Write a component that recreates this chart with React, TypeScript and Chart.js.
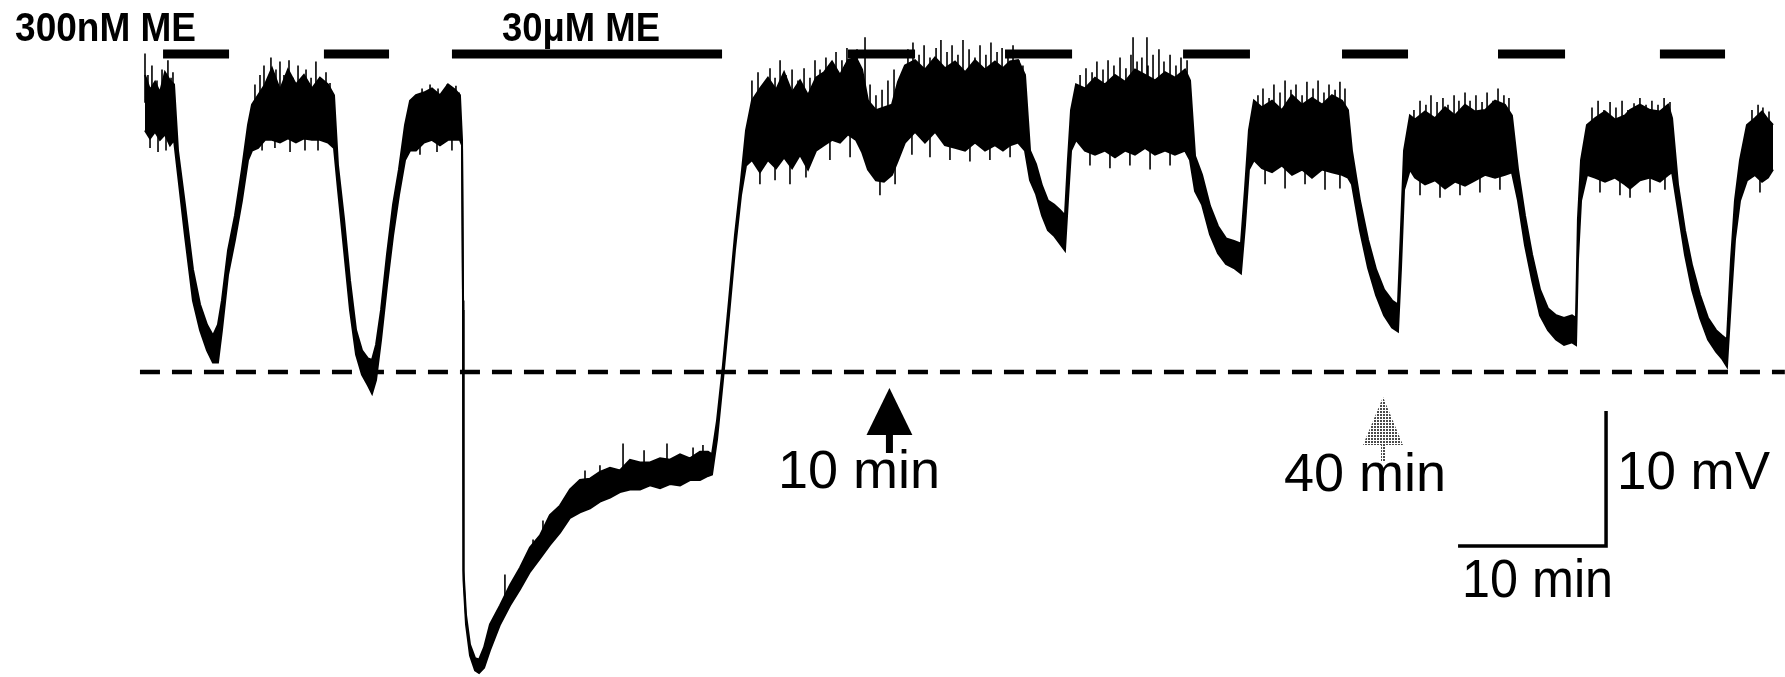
import React, { useEffect, useRef } from "react";
import { Chart, registerables } from "chart.js";

Chart.register(...registerables);

// Membrane potential trace (time in min, potential in mV relative to dashed baseline)
// drawn as the upper and lower edges of the noisy recording band.
const traceTime = [
  0, 0.34, 0.68, 1.01, 1.35, 1.69, 1.96, 2.23, 2.7, 3.24, 3.72, 4.19, 4.59, 4.93, 5.2, 5.61, 6.08, 6.55, 6.96, 7.23,
  7.64, 8.11, 8.58, 9.12, 9.66, 10.2, 10.74, 11.28, 11.82, 12.36, 12.77,
  13.04, 13.45, 13.85, 14.26, 14.66, 15.07, 15.34, 15.61, 15.95, 16.35, 16.76, 17.16, 17.57, 17.91,
  18.31, 18.85, 19.39, 19.93, 20.47, 20.95, 21.28,
  21.42, 21.49, 21.52, 21.69, 21.96, 22.3, 22.57, 22.91, 23.31, 23.99, 24.66, 25.34, 26.01, 26.69, 27.36, 28.04, 28.72,
  29.39, 30.07, 30.74, 31.42, 32.09, 32.77, 33.45, 34.12, 34.8, 35.47, 36.15, 36.82, 37.5, 38.04,
  38.31, 38.65, 39.05, 39.46, 39.86, 40.27, 40.61,
  41.01, 41.55, 42.09, 42.64, 43.18, 43.72, 44.26, 44.8, 45.34, 45.88, 46.42, 46.96, 47.5, 48.04, 48.45, 48.85, 49.39,
  49.93, 50.47, 50.88, 51.35, 52.03, 52.7, 53.38, 54.05, 54.73, 55.41, 56.08, 56.76, 57.43, 57.97, 58.45, 58.99, 59.46,
  59.8, 60.2, 60.61, 61.01, 61.42, 61.82, 62.16, 62.36, 62.57, 62.91,
  63.51, 64.19, 64.86, 65.54, 66.22, 66.89, 67.57, 68.24, 68.92, 69.59, 70.27, 70.61,
  70.95, 71.42, 71.96, 72.5, 73.04, 73.58, 74.05, 74.32, 74.59, 74.93,
  75.47, 76.15, 76.82, 77.5, 78.18, 78.85, 79.53, 80.2, 80.88, 81.28,
  81.55, 82.09, 82.64, 83.18, 83.72, 84.26, 84.66, 84.86, 85.07, 85.47,
  85.81, 86.49, 87.16, 87.84, 88.51, 89.19, 89.86, 90.54, 91.22, 91.89, 92.36,
  92.77, 93.24, 93.72, 94.26, 94.8, 95.34, 95.88, 96.42, 96.69, 96.82, 97.03, 97.43,
  97.97, 98.65, 99.32, 100.0, 100.34, 101.01, 101.69, 102.36, 102.91, 103.18,
  103.58, 104.05, 104.53, 105.07, 105.61, 106.15, 106.55, 106.89, 107.16, 107.43, 107.77, 108.24,
  108.78, 109.26, 109.66, 110.0,
];

const traceUpper = [
  22.0, 20.9, 21.5, 20.7, 22.2, 21.6, 21.3, 16.4, 12.4, 7.6, 5.0, 3.5, 2.7, 3.5, 5.3, 9.0, 11.6, 15.0, 18.3, 19.8,
  20.5, 21.3, 22.5, 20.9, 22.4, 21.3, 22.0, 21.0, 21.8, 21.3, 20.5,
  15.3, 11.3, 6.8, 3.1, 1.6, 1.0, 0.9, 2.0, 4.6, 8.7, 12.4, 15.0, 18.3, 20.1,
  20.5, 20.7, 21.0, 20.5, 21.3, 20.9, 20.5,
  17.2, 5.3, -14.7, -18.0, -20.2, -21.2, -21.3, -20.4, -18.7, -17.3, -15.8, -14.5, -13.0, -12.1, -10.6, -9.9, -8.7,
  -8.0, -7.9, -7.4, -7.1, -7.3, -6.5, -6.7, -6.7, -6.4, -6.5, -6.1, -6.4, -5.9, -5.9,
  -6.1, -3.6, 0.5, 5.3, 10.1, 14.2, 17.9,
  20.1, 21.0, 21.8, 20.9, 22.2, 20.7, 21.6, 20.5, 21.8, 22.2, 23.0, 22.0, 23.1, 23.3, 22.4, 20.1, 19.4,
  19.6, 19.8, 21.5, 22.7, 23.1, 22.4, 23.3, 22.5, 23.0, 22.2, 23.1, 22.4, 23.0, 22.5, 23.0, 23.1, 22.0,
  16.4, 15.4, 13.8, 12.7, 12.4, 12.0, 11.6, 15.7, 19.4, 21.3,
  21.0, 21.8, 21.3, 22.0, 21.5, 22.4, 22.0, 21.6, 22.2, 21.8, 22.4, 21.6,
  16.0, 14.6, 12.3, 10.8, 9.9, 9.7, 9.5, 13.5, 17.9, 20.1,
  19.6, 20.1, 19.4, 20.5, 19.8, 20.3, 19.8, 20.5, 20.1, 19.4,
  16.4, 12.7, 9.8, 7.6, 6.1, 5.3, 5.0, 10.5, 16.4, 19.0,
  18.7, 19.3, 18.8, 19.6, 19.0, 19.8, 19.3, 19.4, 20.1, 19.8, 19.0,
  15.0, 11.6, 8.7, 6.1, 4.7, 4.2, 4.0, 4.2, 4.0, 11.3, 15.7, 18.3,
  18.8, 19.3, 18.7, 19.0, 19.4, 19.8, 19.4, 19.3, 19.8, 18.8,
  13.9, 10.5, 7.9, 5.7, 4.0, 3.1, 2.7, 2.4, 8.3, 12.7, 15.7, 18.3,
  18.8, 19.3, 18.7, 18.3,
];

const traceLower = [
  17.9, 17.3, 17.8, 17.2, 17.6, 16.8, 17.2, 14.6, 10.1, 5.3, 3.1, 1.6, 0.7, 0.7, 3.1, 7.2, 9.8, 12.7, 15.7, 16.4,
  16.6, 17.2, 17.2, 17.0, 17.3, 17.0, 17.3, 17.2, 17.2, 17.0, 16.6,
  13.5, 9.0, 4.6, 1.3, -0.2, -1.0, -1.6, -0.6, 2.4, 6.4, 10.1, 13.1, 15.7, 16.4,
  16.4, 17.0, 17.2, 16.8, 17.2, 17.2, 17.2,
  16.8, 4.6, -15.4, -18.7, -21.0, -22.1, -22.3, -21.9, -20.6, -18.7, -17.3, -16.1, -14.8, -13.8, -12.8, -11.9, -10.8,
  -10.4, -10.1, -9.6, -9.3, -8.9, -8.7, -8.7, -8.4, -8.6, -8.3, -8.4, -8.0, -8.0, -7.7,
  -7.6, -5.0, -0.6, 4.2, 9.0, 13.1, 15.3,
  15.7, 14.8, 15.7, 15.1, 15.9, 15.1, 16.1, 15.0, 16.4, 16.8, 17.2, 17.0, 17.6, 17.2, 16.3, 15.0, 14.2,
  14.1, 14.6, 15.7, 17.0, 17.8, 17.0, 17.8, 16.8, 16.6, 16.4, 17.0, 16.4, 16.8, 16.4, 16.8, 17.0, 16.4,
  14.2, 13.2, 11.6, 10.5, 10.1, 9.5, 9.0, 12.7, 16.4, 17.2,
  16.4, 16.1, 16.4, 15.9, 16.4, 16.1, 16.6, 16.1, 16.4, 16.1, 16.4, 15.7,
  13.4, 12.4, 10.2, 8.8, 8.0, 7.7, 7.3, 10.8, 15.0, 15.7,
  15.1, 14.8, 15.3, 14.6, 15.0, 14.4, 15.0, 14.8, 14.6, 14.4,
  13.9, 10.5, 7.7, 5.7, 4.2, 3.3, 3.0, 7.6, 13.5, 15.0,
  14.4, 13.9, 14.2, 13.6, 14.1, 13.8, 14.2, 14.6, 14.4, 14.6, 14.8,
  12.7, 9.4, 6.8, 4.2, 3.1, 2.4, 2.0, 2.2, 2.0, 8.3, 12.7, 14.6,
  14.4, 14.1, 14.4, 13.9, 13.6, 14.2, 14.4, 14.1, 14.6, 14.8,
  12.0, 8.7, 6.1, 4.0, 2.4, 1.5, 1.0, 0.4, 5.3, 9.8, 12.7, 14.2,
  14.6, 14.1, 14.4, 15.0,
];

// Noise spikes: time (min) and tip potential (mV); each spike starts from the band centre
const spikeTime = [
  0.0, 0.2, 0.47, 0.81, 1.15, 1.55, 1.76, 1.89, 0.34, 0.88, 1.42,
  7.43, 7.77, 8.04, 8.31, 8.51, 8.85, 9.12, 9.39, 9.73, 10.0, 10.34, 10.61, 10.88, 11.22, 11.55, 11.89, 12.23, 12.5,
  7.91, 8.78, 9.8, 10.81, 11.69,
  18.04, 18.38, 18.72, 18.99, 19.26, 19.53, 19.8, 20.14, 20.41, 20.68, 21.01, 21.22, 18.58, 19.73, 20.74,
  24.32, 26.22, 26.89, 28.58, 29.05, 29.73, 30.74, 32.3, 33.72, 35.27, 37.03, 37.7,
  41.01, 41.42, 41.82, 42.23, 42.57, 42.91, 43.31, 43.72, 44.12, 44.53, 44.93, 45.27, 45.61, 46.01, 46.35, 46.69,
  47.09, 47.43, 47.77, 48.11, 48.65, 48.99, 49.39, 49.8, 50.2, 50.61, 51.55, 51.89, 52.3, 52.64, 53.04, 53.45, 53.78,
  54.19, 54.53, 54.93, 55.27, 55.68, 56.08, 56.42, 56.82, 57.16, 57.57, 57.91, 58.31, 58.65, 59.05, 59.32,
  41.55, 42.57, 43.58, 44.66, 46.28, 47.64, 49.66, 50.68, 51.82, 53.04, 54.39, 55.74, 57.09, 58.45,
  63.18, 63.58, 63.99, 64.32, 64.73, 65.07, 65.47, 65.88, 66.28, 66.62, 66.76, 67.03, 67.36, 67.7, 67.77, 68.11,
  68.51, 68.85, 69.26, 69.66, 70.0, 70.41, 63.85, 65.2, 66.55, 67.91, 69.26,
  75.2, 75.54, 75.95, 76.28, 76.69, 77.03, 77.43, 77.77, 78.18, 78.51, 78.92, 79.26, 79.66, 80.0, 80.41, 80.74, 81.08,
  75.68, 77.03, 78.38, 79.73, 80.74,
  85.74, 86.15, 86.55, 86.89, 87.3, 87.7, 88.04, 88.45, 88.78, 89.19, 89.53, 89.93, 90.34, 90.68, 91.08, 91.42, 91.82,
  92.16, 86.15, 87.5, 88.85, 90.2, 91.55,
  97.77, 98.18, 98.58, 98.99, 99.39, 99.8, 100.2, 100.61, 101.01, 101.42, 101.82, 102.23, 102.64, 103.04,
  98.31, 99.66, 100.34, 101.69, 102.7,
  108.58, 108.99, 109.32, 109.73, 109.12,
];
const spikeTip = [
  23.6, 22.0, 22.7, 21.6, 22.4, 23.1, 21.8, 22.2, 16.6, 16.3, 16.4,
  21.3, 22.0, 22.7, 21.6, 23.3, 22.4, 23.0, 22.0, 23.1, 21.8, 22.7, 21.5, 22.4, 21.8, 23.0, 21.6, 22.2, 21.4,
  16.4, 16.6, 16.3, 16.4, 16.4,
  19.8, 20.5, 21.0, 20.3, 21.3, 20.7, 21.0, 20.5, 21.3, 20.9, 21.2, 20.7, 16.1, 16.3, 16.4,
  -15.0, -12.4, -11.0, -9.3, -9.0, -7.3, -6.9, -5.3, -5.8, -5.3, -5.6, -5.4,
  21.6, 22.2, 21.3, 22.5, 21.8, 23.1, 22.0, 22.4, 21.6, 22.5, 21.8, 23.1, 22.4, 23.3, 22.7, 23.7,
  23.1, 24.0, 23.5, 23.9, 24.8, 21.3, 20.5, 20.9, 21.6, 22.4, 23.9, 24.4, 23.5, 24.2, 23.3, 24.0, 24.6,
  23.7, 24.2, 23.5, 24.6, 23.9, 23.3, 24.2, 23.5, 24.4, 23.7, 24.0, 23.5, 24.2, 23.1, 22.7,
  13.9, 14.2, 13.9, 14.4, 15.7, 15.9, 13.1, 13.9, 16.1, 15.9, 15.7, 15.6, 15.7, 15.9,
  22.0, 22.5, 22.2, 23.0, 22.4, 23.1, 22.7, 23.3, 22.5, 23.5, 24.8, 23.0, 23.3, 24.8, 22.7, 23.5,
  23.9, 23.0, 23.5, 22.7, 23.3, 23.1, 15.3, 15.1, 15.3, 15.0, 15.3,
  20.5, 21.0, 20.3, 21.3, 20.7, 21.6, 20.9, 21.3, 20.5, 21.5, 21.0, 21.6, 20.7, 21.3, 20.9, 21.5, 21.0,
  13.9, 13.6, 13.9, 13.5, 13.6,
  19.4, 20.1, 19.8, 20.5, 20.0, 20.3, 19.8, 20.5, 20.1, 20.7, 20.1, 20.5, 20.0, 20.7, 20.1, 21.0, 20.5,
  20.3, 13.1, 12.9, 13.1, 13.3, 13.5,
  19.6, 20.1, 19.4, 20.0, 19.6, 20.1, 19.4, 19.9, 20.3, 19.8, 20.1, 19.8, 20.3, 20.0,
  13.3, 13.1, 12.9, 13.3, 13.5,
  19.4, 19.8, 19.6, 19.3, 13.3,
];

// Drug application bars (min)
const drugStart = [1.22, 12.09, 20.74, 47.5, 58.11, 70.14, 80.88, 91.42, 102.36];
const drugEnd = [5.68, 16.49, 38.99, 52.03, 62.64, 74.66, 85.34, 95.95, 106.76];
const drugLevel = 23.56;

// Dashed reference potential
const baselineTime = [-0.34, 110.8];
const baselineMv = [0, 0];

// Scale bar: 10 min x 10 mV
const scaleBarTime = [88.72, 98.72, 98.72];
const scaleBarMv = [-12.89, -12.89, -2.89];

// Time-point arrows
const arrowTime = [50.3, 83.65];
const arrowTipMv = [-1.19, -1.85];
const arrowBaseMv = [-4.67, -5.41];
const arrowStemEndMv = [-6.0, -6.67];
const arrowHalfWidth = [1.55, 1.35];
const arrowColor = ["#000000", "#4a4a4a"];
const arrowStippled = [false, true];
const arrowStemWidth = [7, 4];

// Text labels
const labelText = ["300nM ME", "30\u03bcM ME", "10 min", "40 min", "10 mV", "10 min"];
const labelTime = [-8.78, 24.12, 42.77, 76.96, 99.46, 88.99];
const labelMv = [24.52, 24.52, -8.59, -8.81, -8.67, -16.67];
const labelBold = [true, true, false, false, false, false];
const labelMaxWidth = [181, 158, 165, 168, 153, 151];

const X_MIN = -9.797;
const X_MAX = 110.811;
const Y_MIN = -22.593;
const Y_MAX = 27.556;

function bandCentre(t: number): number {
  for (let i = 1; i < traceTime.length; i++) {
    if (t <= traceTime[i]) {
      const t0 = traceTime[i - 1];
      const t1 = traceTime[i];
      const f = t1 === t0 ? 0 : (t - t0) / (t1 - t0);
      const c0 = (traceUpper[i - 1] + traceLower[i - 1]) / 2;
      const c1 = (traceUpper[i] + traceLower[i]) / 2;
      return c0 + (c1 - c0) * Math.max(0, Math.min(1, f));
    }
  }
  const n = traceTime.length - 1;
  return (traceUpper[n] + traceLower[n]) / 2;
}

function stipple(ctx: CanvasRenderingContext2D, color: string): CanvasPattern | string {
  const tile = document.createElement("canvas");
  tile.width = 3;
  tile.height = 3;
  const t = tile.getContext("2d");
  if (!t) return color;
  t.fillStyle = "#ffffff";
  t.fillRect(0, 0, 3, 3);
  t.fillStyle = color;
  t.fillRect(0, 0, 2, 2);
  return ctx.createPattern(tile, "repeat") || color;
}

const annotationPlugin = {
  id: "traceAnnotations",
  afterDatasetsDraw(chart: any) {
    const ctx = chart.ctx;
    const xs = chart.scales.x;
    const ys = chart.scales.y;
    ctx.save();
    for (let i = 0; i < arrowTime.length; i++) {
      const cx = xs.getPixelForValue(arrowTime[i]);
      const tip = ys.getPixelForValue(arrowTipMv[i]);
      const base = ys.getPixelForValue(arrowBaseMv[i]);
      const stemEnd = ys.getPixelForValue(arrowStemEndMv[i]);
      const left = xs.getPixelForValue(arrowTime[i] - arrowHalfWidth[i]);
      const right = xs.getPixelForValue(arrowTime[i] + arrowHalfWidth[i]);
      ctx.fillStyle = arrowStippled[i] ? stipple(ctx, arrowColor[i]) : arrowColor[i];
      ctx.beginPath();
      ctx.moveTo(cx, tip);
      ctx.lineTo(right, base);
      ctx.lineTo(left, base);
      ctx.closePath();
      ctx.fill();
      ctx.fillRect(cx - arrowStemWidth[i] / 2, base - 1, arrowStemWidth[i], stemEnd - base + 1);
    }
    ctx.fillStyle = "#000";
    ctx.textBaseline = "alphabetic";
    ctx.textAlign = "left";
    for (let i = 0; i < labelText.length; i++) {
      ctx.font = labelBold[i]
        ? 'bold 40px "Liberation Sans", Arial, sans-serif'
        : '54px "Liberation Sans", Arial, sans-serif';
      ctx.fillText(labelText[i], xs.getPixelForValue(labelTime[i]), ys.getPixelForValue(labelMv[i]), labelMaxWidth[i]);
    }
    ctx.restore();
  },
};

export default function App() {
  const canvasRef = useRef<HTMLCanvasElement | null>(null);

  useEffect(() => {
    if (!canvasRef.current) return;
    const upper = traceTime.map((t, i) => ({ x: t, y: traceUpper[i] }));
    const lower = traceTime.map((t, i) => ({ x: t, y: traceLower[i] }));
    const spikes: any[] = [];
    spikeTime.forEach((t, i) => {
      spikes.push({ x: t, y: bandCentre(t) });
      spikes.push({ x: t, y: spikeTip[i] });
      spikes.push({ x: t, y: null });
    });
    const bars: any[] = [];
    drugStart.forEach((s, i) => {
      bars.push({ x: s, y: drugLevel });
      bars.push({ x: drugEnd[i], y: drugLevel });
      bars.push({ x: drugEnd[i], y: null });
    });
    const baseline = baselineTime.map((t, i) => ({ x: t, y: baselineMv[i] }));
    const scaleBar = scaleBarTime.map((t, i) => ({ x: t, y: scaleBarMv[i] }));

    const common = { pointRadius: 0, pointHoverRadius: 0, tension: 0 };
    const chart = new Chart(canvasRef.current, {
      type: "line",
      data: {
        datasets: [
          { ...common, data: upper, borderColor: "#000", borderWidth: 2, backgroundColor: "#000", fill: "+1" },
          { ...common, data: lower, borderColor: "#000", borderWidth: 2, fill: false },
          { ...common, data: spikes, borderColor: "#000", borderWidth: 1.6, fill: false, spanGaps: false },
          { ...common, data: bars, borderColor: "#000", borderWidth: 9, borderCapStyle: "butt", fill: false, spanGaps: false },
          { ...common, data: baseline, borderColor: "#000", borderWidth: 4.5, borderDash: [20, 12], borderCapStyle: "butt", fill: false },
          { ...common, data: scaleBar, borderColor: "#000", borderWidth: 3.5, borderJoinStyle: "miter", fill: false },
        ] as any,
      },
      options: {
        animation: false,
        responsive: false,
        devicePixelRatio: 1,
        layout: { padding: 0 },
        events: [],
        plugins: { legend: { display: false }, tooltip: { enabled: false }, title: { display: false } },
        scales: {
          x: { type: "linear", min: X_MIN, max: X_MAX, display: false },
          y: { type: "linear", min: Y_MIN, max: Y_MAX, display: false },
        },
      } as any,
      plugins: [annotationPlugin],
    });
    return () => chart.destroy();
  }, []);

  return (
    <div style={{ position: "absolute", left: 0, top: 0, width: 1785, height: 677, background: "#fff" }}>
      <canvas ref={canvasRef} width={1785} height={677} style={{ display: "block" }} />
    </div>
  );
}
